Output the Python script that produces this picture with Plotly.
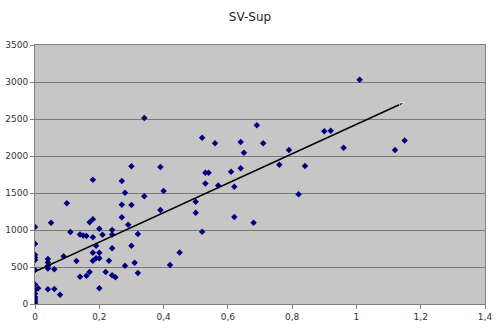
import numpy as np
import plotly.graph_objects as go

# SV values (x) and Sup values (y)
sv = [0, 0, 0, 0, 0, 0, 0, 0, 0, 0, 0, 0, 0, 0,
      0.01, 0.04, 0.04, 0.04, 0.04, 0.04, 0.05, 0.06, 0.06, 0.078, 0.089, 0.099,
      0.11, 0.129, 0.14, 0.14, 0.15, 0.16, 0.16, 0.17, 0.17,
      0.18, 0.18, 0.18, 0.18, 0.18, 0.19, 0.19, 0.20, 0.20, 0.20, 0.20,
      0.21, 0.22, 0.23, 0.24, 0.24, 0.24, 0.24, 0.25,
      0.27, 0.27, 0.27, 0.28, 0.28, 0.29, 0.30, 0.30, 0.30, 0.31, 0.32, 0.32,
      0.34, 0.34, 0.39, 0.39, 0.40, 0.42, 0.45, 0.50, 0.50, 0.52, 0.52,
      0.53, 0.53, 0.54, 0.56, 0.57, 0.61, 0.62, 0.62, 0.64, 0.64, 0.65,
      0.68, 0.69, 0.71, 0.76, 0.79, 0.82, 0.84, 0.90, 0.92, 0.96, 1.01, 1.12, 1.15]
sup = [1040, 815, 665, 630, 595, 460, 265, 185, 140, 95, 70, 45, 20, 0,
       212, 607, 560, 515, 480, 200, 1098, 469, 202, 126, 644, 1360,
       973, 581, 940, 369, 927, 918, 382, 432, 1104,
       1680, 1144, 901, 693, 585, 788, 617, 1017, 693, 617, 212,
       936, 432, 585, 1000, 940, 752, 387, 360,
       1662, 1342, 1171, 1504, 518, 1072, 1860, 1338, 788, 558, 945, 420,
       2513, 1455, 1851, 1270, 1527, 527, 695, 1382, 1232, 2247, 977,
       1774, 1630, 1774, 2171, 1603, 1788, 1585, 1175, 2189, 1833, 2044,
       1099, 2414, 2171, 1882, 2080, 1482, 1864, 2333, 2341, 2112, 3030, 2080, 2211]

x_ticks = [0, 0.2, 0.4, 0.6, 0.8, 1, 1.2, 1.4]
y_ticks = [0, 500, 1000, 1500, 2000, 2500, 3000, 3500]

# linear trend (least squares), drawn from 0 to max SV
slope, intercept = np.polyfit(sv, sup, 1)
tx = [0, max(sv)]
ty = [intercept + slope * v for v in tx]

fig = go.Figure()
fig.add_trace(go.Scatter(
    x=sv, y=sup, mode="markers",
    marker=dict(symbol="diamond", size=5, color="#000080"),
    showlegend=False, hoverinfo="x+y"))
fig.add_trace(go.Scatter(
    x=tx, y=ty, mode="lines+markers",
    line=dict(color="black", width=1.5),
    marker=dict(symbol=["circle", "arrow"], size=[1, 6], angleref="previous",
                color="black"),
    showlegend=False, hoverinfo="skip"))

fig.update_layout(
    width=500, height=329,
    margin=dict(l=35, r=15, t=45, b=25),
    paper_bgcolor="white",
    plot_bgcolor="#c6c6c6",
    separators=", ",
    title=dict(text="SV-Sup", x=0.5, xanchor="center", y=0.95, yanchor="middle",
               font=dict(family="DejaVu Sans", size=12, color="#222")),
    font=dict(family="DejaVu Sans", size=9, color="#333"),
    xaxis=dict(range=[0, 1.4], tickvals=x_ticks, showgrid=False, zeroline=False,
               showline=True, linecolor="#808080", linewidth=1, mirror=True,
               ticks="outside", ticklen=4, tickcolor="#808080", automargin=False),
    yaxis=dict(range=[0, 3500], tickvals=y_ticks, showgrid=True,
               gridcolor="#7a7a7a", gridwidth=1, zeroline=False,
               showline=True, linecolor="#808080", linewidth=1, mirror=True,
               ticks="outside", ticklen=4, tickcolor="#808080", automargin=False),
)

fig.write_html("out.html")
